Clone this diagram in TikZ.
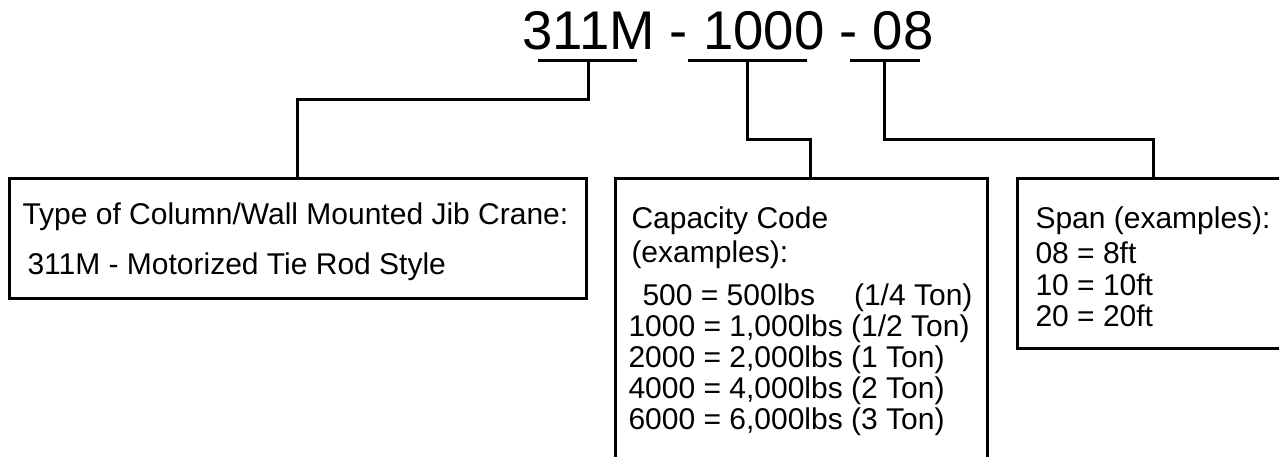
\documentclass[tikz,border=0pt]{standalone}
\usepackage{fontspec}
\setmainfont{Liberation Sans}
\usepackage{tikz}

\begin{document}
\begin{tikzpicture}[x=1pt,y=-1pt,line width=3pt,
    infobox/.style={draw=black,line width=3pt,inner sep=0pt,outer sep=0pt,anchor=north west},
    boxtext/.style={anchor=base west,inner sep=0pt,font=\fontsize{30}{36}\selectfont}]
      \useasboundingbox (0,0) rectangle (1279,457);
      % model code and its underlines
      \node[anchor=base west,inner sep=0pt,font=\fontsize{54.5}{60}\selectfont] (code) at (521,50) {311M - 1000 - 08};
      \coordinate (u1a) at (538,61);
      \coordinate (u1b) at (637,61);
      \coordinate (u1) at (588,61);
      \coordinate (u2a) at (688,61);
      \coordinate (u2b) at (807,61);
      \coordinate (u2) at (747,61);
      \coordinate (u3a) at (850,61);
      \coordinate (u3b) at (920,61);
      \coordinate (u3) at (884,61);
      \draw (u1a) -- (u1b);
      \draw (u2a) -- (u2b);
      \draw (u3a) -- (u3b);

      % boxes
      \node[infobox,minimum width=577,minimum height=119] (typ) at (9,179) {};
      \node[infobox,minimum width=372,minimum height=300] (cap) at (615,179) {};
      \node[infobox,minimum width=272,minimum height=169] (spn) at (1017,179) {};

      \node[boxtext] (typ1) at (21,225) {Type of Column/Wall Mounted Jib Crane:};
      \node[boxtext] (typ2) at (26,274) {311M - Motorized Tie Rod Style};

      \node[boxtext] (cap1) at (630,228) {Capacity Code};
      \node[boxtext] (cap2) at (630,262) {(examples):};
      \node[boxtext] (cap3) at (641,305) {\makebox[330pt][l]{500 = 500lbs\hfill(1/4 Ton)}};
      \node[boxtext] (cap4) at (627,336) {1000 = 1,000lbs (1/2 Ton)};
      \node[boxtext] (cap5) at (627,367) {2000 = 2,000lbs (1 Ton)};
      \node[boxtext] (cap6) at (627,398) {4000 = 4,000lbs (2 Ton)};
      \node[boxtext] (cap7) at (627,429) {6000 = 6,000lbs (3 Ton)};

      \node[boxtext] (spn1) at (1034,229) {Span (examples):};
      \node[boxtext] (spn2) at (1034,263) {08 = 8ft};
      \node[boxtext] (spn3) at (1034,295) {10 = 10ft};
      \node[boxtext] (spn4) at (1034,326) {20 = 20ft};

      % connectors
      \coordinate (j1) at (297.5,100);
      \coordinate (j2) at (810,140);
      \coordinate (j3) at (1153,140);
      \draw (u1) |- (j1) -- (typ.north);
      \draw (u2) |- (j2) -- (j2 |- cap.north);
      \draw (u3) |- (j3) -- (spn.north);
    \end{tikzpicture}
\end{document}
